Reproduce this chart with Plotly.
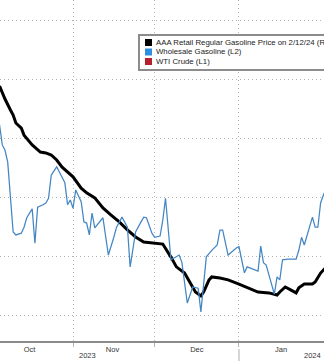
import plotly.graph_objects as go

# AAA retail regular gasoline, $/gal (daily)
retail_dates = [
    "2023-10-05", "2023-10-07", "2023-10-09", "2023-10-10", "2023-10-11", "2023-10-13",
    "2023-10-14", "2023-10-15", "2023-10-17", "2023-10-20", "2023-10-22", "2023-10-24",
    "2023-10-26", "2023-10-28", "2023-10-30", "2023-11-01", "2023-11-04", "2023-11-06",
    "2023-11-09", "2023-11-12", "2023-11-15", "2023-11-18", "2023-11-21", "2023-11-24",
    "2023-11-27", "2023-12-01", "2023-12-04", "2023-12-07", "2023-12-09", "2023-12-12",
    "2023-12-14", "2023-12-16", "2023-12-18", "2023-12-19", "2023-12-21", "2023-12-22",
    "2023-12-25", "2023-12-28", "2024-01-01", "2024-01-05", "2024-01-08", "2024-01-12",
    "2024-01-15", "2024-01-16", "2024-01-18", "2024-01-20", "2024-01-22", "2024-01-23",
    "2024-01-25", "2024-01-28", "2024-01-29", "2024-01-31", "2024-02-01", "2024-02-02",
]
retail_price = [
    3.777, 3.733, 3.696, 3.679, 3.652, 3.635,
    3.611, 3.601, 3.578, 3.554, 3.551, 3.544,
    3.527, 3.503, 3.486, 3.470, 3.432, 3.416,
    3.399, 3.365, 3.341, 3.318, 3.291, 3.267,
    3.250, 3.247, 3.243, 3.199, 3.166, 3.145,
    3.111, 3.081, 3.068, 3.081, 3.122, 3.132,
    3.128, 3.122, 3.108, 3.091, 3.081, 3.078,
    3.071, 3.081, 3.098, 3.088, 3.078, 3.095,
    3.108, 3.108, 3.115, 3.145, 3.155, 3.165,
]

# Wholesale gasoline, $/gal
wholesale_dates = [
    "2023-10-05", "2023-10-06", "2023-10-07", "2023-10-08", "2023-10-10", "2023-10-11",
    "2023-10-13", "2023-10-14", "2023-10-15", "2023-10-17", "2023-10-18", "2023-10-19",
    "2023-10-21", "2023-10-22", "2023-10-23", "2023-10-24", "2023-10-26", "2023-10-28",
    "2023-10-29", "2023-10-30", "2023-10-31", "2023-11-01", "2023-11-02", "2023-11-04",
    "2023-11-05", "2023-11-06", "2023-11-07", "2023-11-08", "2023-11-09", "2023-11-12",
    "2023-11-14", "2023-11-16", "2023-11-17", "2023-11-19", "2023-11-21", "2023-11-22",
    "2023-11-24", "2023-11-26", "2023-11-27", "2023-11-28", "2023-11-30", "2023-12-01",
    "2023-12-03", "2023-12-04", "2023-12-05", "2023-12-07", "2023-12-10", "2023-12-11",
    "2023-12-13", "2023-12-15", "2023-12-17", "2023-12-18", "2023-12-20", "2023-12-22",
    "2023-12-24", "2023-12-25", "2023-12-26", "2023-12-28", "2023-12-31", "2024-01-01",
    "2024-01-03", "2024-01-04", "2024-01-08", "2024-01-09", "2024-01-10", "2024-01-11",
    "2024-01-14", "2024-01-15", "2024-01-16", "2024-01-17", "2024-01-19", "2024-01-22",
    "2024-01-23", "2024-01-24", "2024-01-25", "2024-01-28", "2024-01-29", "2024-01-30",
    "2024-01-31", "2024-02-01", "2024-02-02",
]
wholesale_price = [
    2.323, 2.289, 2.280, 2.260, 2.142, 2.137,
    2.140, 2.150, 2.166, 2.181, 2.123, 2.184,
    2.188, 2.191, 2.199, 2.238, 2.252, 2.235,
    2.225, 2.188, 2.196, 2.182, 2.213, 2.193,
    2.159, 2.157, 2.137, 2.174, 2.149, 2.166,
    2.103, 2.133, 2.150, 2.167, 2.150, 2.083,
    2.142, 2.159, 2.167, 2.166, 2.140, 2.133,
    2.135, 2.162, 2.199, 2.095, 2.103, 2.091,
    2.022, 2.049, 2.047, 2.007, 2.100, 2.111,
    2.120, 2.145, 2.145, 2.103, 2.115, 2.117,
    2.073, 2.083, 2.076, 2.118, 2.090, 2.086,
    2.037, 2.066, 2.061, 2.095, 2.096, 2.096,
    2.111, 2.133, 2.120, 2.167, 2.150, 2.150,
    2.191, 2.204, 2.215,
]

series_names = [
    "AAA Retail Regular Gasoline Price on 2/12/24 (R1)",
    "Wholesale Gasoline (L2)",
    "WTI Crude (L1)",
]
series_colors = ["#000000", "#2f8ee0", "#b5202e"]

month_ticks = ["2023-10-16", "2023-11-15 12:00", "2023-12-16 12:00", "2024-01-16 12:00"]
month_labels = ["Oct", "Nov", "Dec", "Jan"]
month_starts = ["2023-11-01", "2023-12-01", "2024-01-01"]
year_labels = ["2023", "2024"]
year_label_pos = ["2023-11-06 12:00", "2024-01-28"]

W, H = 324, 361
B = 20
PH = H - B  # plot height in px

fig = go.Figure()
fig.add_trace(go.Scatter(
    x=wholesale_dates, y=wholesale_price, yaxis="y2", mode="lines",
    line=dict(color="#4486c3", width=1.25), showlegend=False, hoverinfo="skip",
))
fig.add_trace(go.Scatter(
    x=retail_dates, y=retail_price, yaxis="y", mode="lines",
    line=dict(color="#000000", width=3), showlegend=False, hoverinfo="skip",
))

GRID = "#b4b4b4"
DOTS = "1px,3px"
fig.update_layout(
    width=W, height=H,
    margin=dict(l=0, r=0, t=0, b=B, pad=0, autoexpand=False),
    paper_bgcolor="white", plot_bgcolor="white",
    font=dict(family="Liberation Sans, Arial, sans-serif", color="#333333", size=7),
    xaxis=dict(
        range=["2023-10-05 04:00", "2024-02-01 06:00"],
        tickvals=month_ticks, ticktext=month_labels,
        ticks="", showgrid=False, zeroline=False, automargin=False,
        showline=True, linecolor="#8a8a8a", linewidth=1.5,
        tickfont=dict(size=7.5, color="#333333"),
        minor=dict(tickvals=month_starts, showgrid=True, gridcolor=GRID,
                   griddash=DOTS, gridwidth=1, ticks="outside", ticklen=4,
                   tickcolor="#b4b4b4", tickwidth=1),
    ),
    yaxis=dict(
        range=[2.9155, 4.0676], tick0=3.0, dtick=0.2, automargin=False,
        showticklabels=False, ticks="", zeroline=False,
        showgrid=True, gridcolor=GRID, griddash=DOTS, gridwidth=1,
    ),
    yaxis2=dict(
        range=[1.9578, 2.5338], overlaying="y", side="left",
        visible=False, showgrid=False, automargin=False,
    ),
    showlegend=False,
)


def py(v):
    """pixel row -> paper y"""
    return (PH - v) / PH


def px(v):
    return v / W


# legend box
fig.add_shape(type="rect", xref="paper", yref="paper",
              x0=px(139), x1=px(W + 10), y0=py(70), y1=py(35),
              fillcolor="white", line=dict(color="#8c8c8c", width=2), layer="above")
row_y = [42.5, 52.0, 61.5]
for name, col, ry in zip(series_names, series_colors, row_y):
    fig.add_shape(type="rect", xref="paper", yref="paper",
                  x0=px(145), x1=px(152), y0=py(ry + 3.5), y1=py(ry - 3.5),
                  fillcolor=col, line=dict(width=0), layer="above")
    fig.add_annotation(text=name, xref="paper", yref="paper",
                       x=px(154), y=py(ry), xanchor="left", yanchor="middle",
                       showarrow=False, font=dict(size=7.8, color="#222222"))

# year labels and separator
for lab, pos in zip(year_labels, year_label_pos):
    fig.add_annotation(text=lab, xref="x", yref="paper", x=pos, y=py(355.5),
                       xanchor="center", yanchor="middle", showarrow=False,
                       font=dict(size=7.5, color="#333333"))
fig.add_shape(type="line", xref="x", yref="paper",
              x0="2024-01-01", x1="2024-01-01", y0=py(349), y1=py(362),
              line=dict(color="#c8c8c8", width=1.5))

fig.write_html("out.html")
